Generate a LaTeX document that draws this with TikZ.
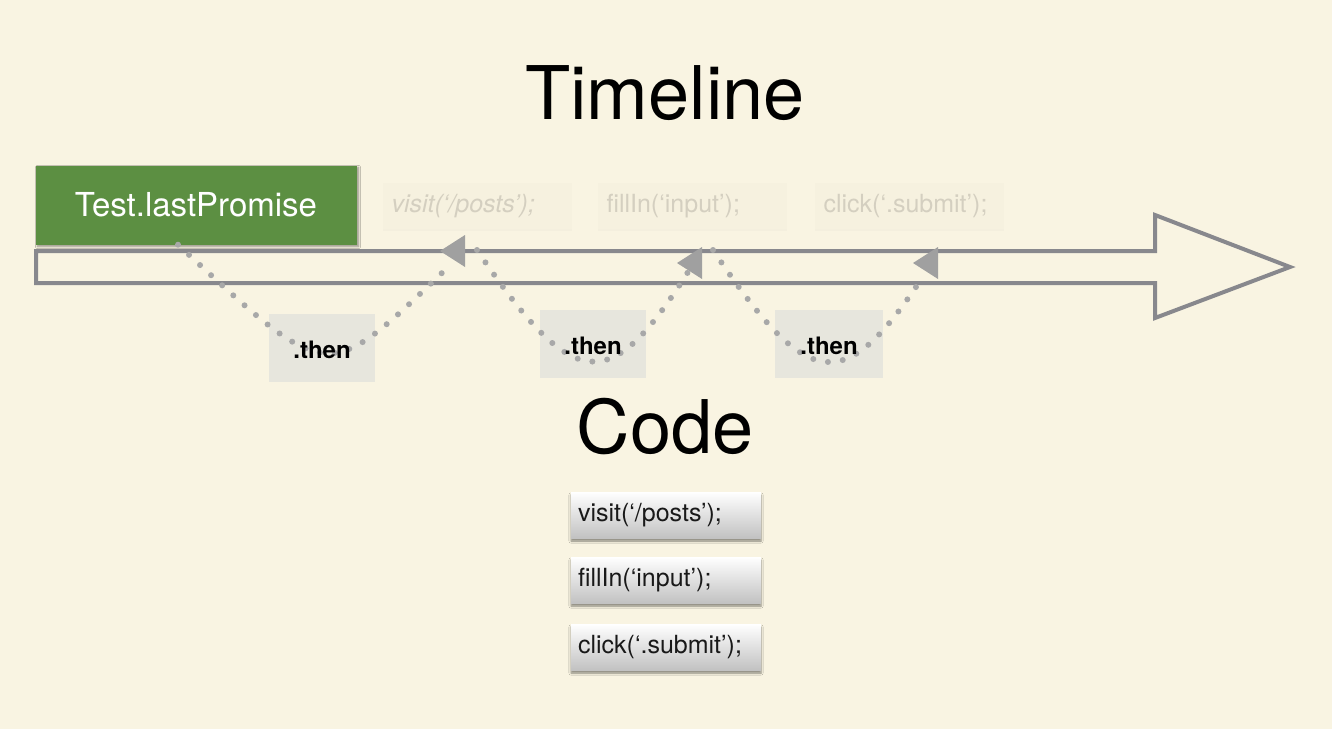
\documentclass[tikz,border=0pt]{standalone}
\usepackage{fontspec}
\setmainfont{TeX Gyre Heros}
\usetikzlibrary{shadows,shadows.blur,calc}

\definecolor{paper}{RGB}{249,244,226}
\definecolor{promisegreen}{RGB}{92,143,66}
\definecolor{linegray}{RGB}{136,136,141}
\definecolor{dotgray}{RGB}{168,168,168}
\definecolor{thenfill}{RGB}{231,230,221}
\definecolor{ghostfill}{RGB}{246,241,223}
\definecolor{ghosttext}{RGB}{212,207,192}

\tikzset{
	promise/.style={fill=promisegreen, text=white, minimum width=321pt, minimum height=79pt,
		font=\fontsize{33}{36}\selectfont,
		blur shadow={shadow xshift=2pt, shadow yshift=-2pt, shadow blur steps=5, shadow opacity=40}},
	ghost/.style={fill=ghostfill, text=ghosttext, text width=171pt, inner xsep=9pt, align=left,
		minimum height=46pt, font=\fontsize{25}{28}\selectfont,
		drop shadow={shadow xshift=0pt, shadow yshift=-2pt, opacity=.04}},
	thenbox/.style={fill=thenfill, minimum width=106pt, minimum height=68pt, inner sep=0pt},
	thenlabel/.style={font=\bfseries\fontsize{24}{26}\selectfont, yshift=-1.5pt},
	codebox/.style={top color=white, bottom color=black!24, text=black!90, text width=176pt,
		inner xsep=7pt, align=left, minimum height=46pt, font=\fontsize{25}{28}\selectfont,
		blur shadow={shadow xshift=0pt, shadow yshift=-3pt, shadow blur steps=5, shadow opacity=45}},
	heading/.style={font=\fontsize{74}{80}\selectfont},
	timeline/.style={draw=linegray, line width=4pt, line join=miter},
	dotted path/.style={dotgray, line width=6pt, line cap=round, dash pattern=on 0pt off 15pt},
	headtip/.style={fill=dotgray!95!black}
}

\begin{document}
\begin{tikzpicture}[x=1pt, y=-1pt]
	\useasboundingbox (0,0) rectangle (1332,728);
	\fill[paper] (-6,-6) rectangle (1338,734);

	\node[heading] (title) at (665,93) {Timeline};

	% the timeline arrow
	\draw[timeline] (36,251) -- (1155,251) -- (1155,215) -- (1290,267)
		-- (1155,318) -- (1155,283) -- (36,283) -- cycle;

	\node[promise] (test) at (196,205) {Test.lastPromise};
	\node[ghost] (visitT) at (477,206) {\itshape visit(‘/posts’);};
	\node[ghost] (fillT) at (692,206) {fillIn(‘input’);};
	\node[ghost] (clickT) at (909,206) {click(‘.submit’);};

	\node[thenbox] (then1) at (322,348) {};
	\node[thenbox] (then2) at (593,344) {};
	\node[thenbox, minimum width=108pt] (then3) at (829,344) {};

	\coordinate (h1) at (440,251);
	\coordinate (h2) at (677,263);
	\coordinate (h3) at (913,263);
	\foreach \h in {h1,h2,h3}
		\fill[headtip] (\h) -- ++(25,-16) -- ++(0,32) -- cycle;

	% .then chains
	\draw[dotted path] ([xshift=-18pt]test.south) .. controls (330,385) and (325,385) .. ($(h1)+(5,19)$);
	\draw[dotted path] ($(h1)+(37,-1)$) .. controls (575,395) and (610,395) .. ($(h2)+(11,9)$);
	\draw[dotted path] ($(h2)+(36,-13)$) .. controls (810,395) and (845,395) .. ($(h3)+(11,12)$);

	\node[thenlabel] at (then1) {.then};
	\node[thenlabel] at (then2) {.then};
	\node[thenlabel] at (then3) {.then};

	\node[heading] (code) at (665,427) {Code};

	\node[codebox] (visit) at (666,515) {visit(‘/posts’);};
	\node[codebox] (fill) at (666,580) {fillIn(‘input’);};
	\node[codebox] (click) at (666,647) {click(‘.submit’);};
\end{tikzpicture}
\end{document}
